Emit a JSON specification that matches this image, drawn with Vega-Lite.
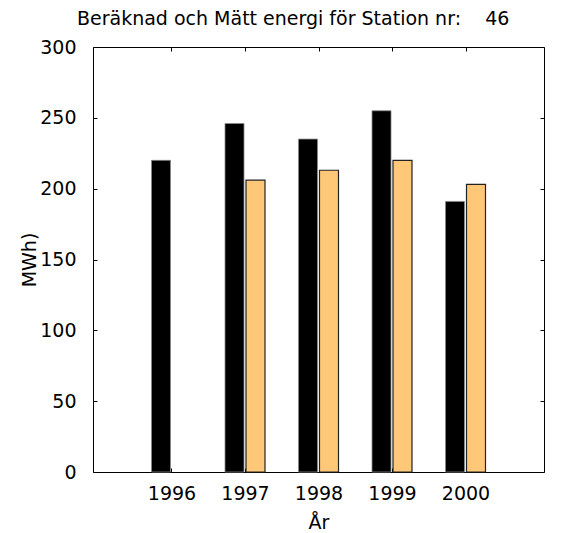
{
  "$schema": "https://vega.github.io/schema/vega-lite/v6.json",
  "width": 451,
  "height": 425,
  "autosize": "none",
  "padding": {"left": 93, "top": 47, "right": 19, "bottom": 61},
  "background": "white",
  "config": {
    "font": "DejaVu Sans",
    "view": {"stroke": "black", "strokeWidth": 1},
    "axis": {
      "domain": false,
      "grid": false,
      "tickColor": "black",
      "tickWidth": 1,
      "tickSize": -4,
      "labelColor": "black",
      "labelFont": "DejaVu Sans",
      "labelFontSize": 19,
      "titleColor": "black",
      "titleFont": "DejaVu Sans",
      "titleFontSize": 19,
      "titleFontWeight": "normal"
    }
  },
  "title": {
    "text": "Beräknad och Mätt energi för Station nr:\u00a0\u00a0\u00a0\u00a046",
    "anchor": "start",
    "frame": "group",
    "dx": -16,
    "dy": 25,
    "offset": 19,
    "baseline": "alphabetic",
    "font": "DejaVu Sans",
    "fontSize": 19,
    "fontWeight": "normal",
    "color": "black"
  },
  "data": {
    "values": [
      {"År": 1996, "serie": "Beräknad", "MWh": 220},
      {"År": 1997, "serie": "Beräknad", "MWh": 246},
      {"År": 1997, "serie": "Mätt", "MWh": 206},
      {"År": 1998, "serie": "Beräknad", "MWh": 235},
      {"År": 1998, "serie": "Mätt", "MWh": 213},
      {"År": 1999, "serie": "Beräknad", "MWh": 255},
      {"År": 1999, "serie": "Mätt", "MWh": 220},
      {"År": 2000, "serie": "Beräknad", "MWh": 191},
      {"År": 2000, "serie": "Mätt", "MWh": 203}
    ]
  },
  "layer": [
    {
      "transform": [{"filter": "datum.serie === 'Beräknad'"}],
      "mark": {"type": "bar", "orient": "vertical", "width": 19, "xOffset": -10.5, "fill": "black", "stroke": "#888888", "strokeWidth": 0.8},
      "encoding": {
        "x": {
          "field": "År", "type": "quantitative",
          "scale": {"domain": [1995, 2001], "nice": false, "zero": false},
          "axis": {"orient": "bottom", "values": [1996, 1997, 1998, 1999, 2000], "format": "d", "labelPadding": 16, "title": "År", "titleY": 56, "titleBaseline": "alphabetic"}
        },
        "y": {
          "field": "MWh", "type": "quantitative",
          "scale": {"domain": [0, 300], "nice": false},
          "axis": {"orient": "left", "values": [0, 50, 100, 150, 200, 250, 300], "labelPadding": 21, "title": "MWh)", "titleX": -64, "titleBaseline": "middle"}
        }
      }
    },
    {
      "transform": [{"filter": "datum.serie === 'Mätt'"}],
      "mark": {"type": "bar", "orient": "vertical", "width": 19, "xOffset": 10.5, "fill": "#FFC878", "stroke": "#222222", "strokeWidth": 1.2},
      "encoding": {
        "x": {"field": "År", "type": "quantitative", "axis": null},
        "y": {"field": "MWh", "type": "quantitative", "axis": null}
      }
    },
    {
      "mark": {"type": "point", "opacity": 0},
      "encoding": {
        "x": {"field": "År", "type": "quantitative", "axis": {"orient": "top", "values": [1996, 1997, 1998, 1999, 2000], "labels": false, "title": null, "minExtent": 0, "maxExtent": 0, "offset": 0}},
        "y": {"field": "MWh", "type": "quantitative", "axis": {"orient": "right", "values": [0, 50, 100, 150, 200, 250, 300], "labels": false, "title": null, "minExtent": 0, "maxExtent": 0}}
      }
    }
  ],
  "resolve": {"axis": {"x": "independent", "y": "independent"}}
}
